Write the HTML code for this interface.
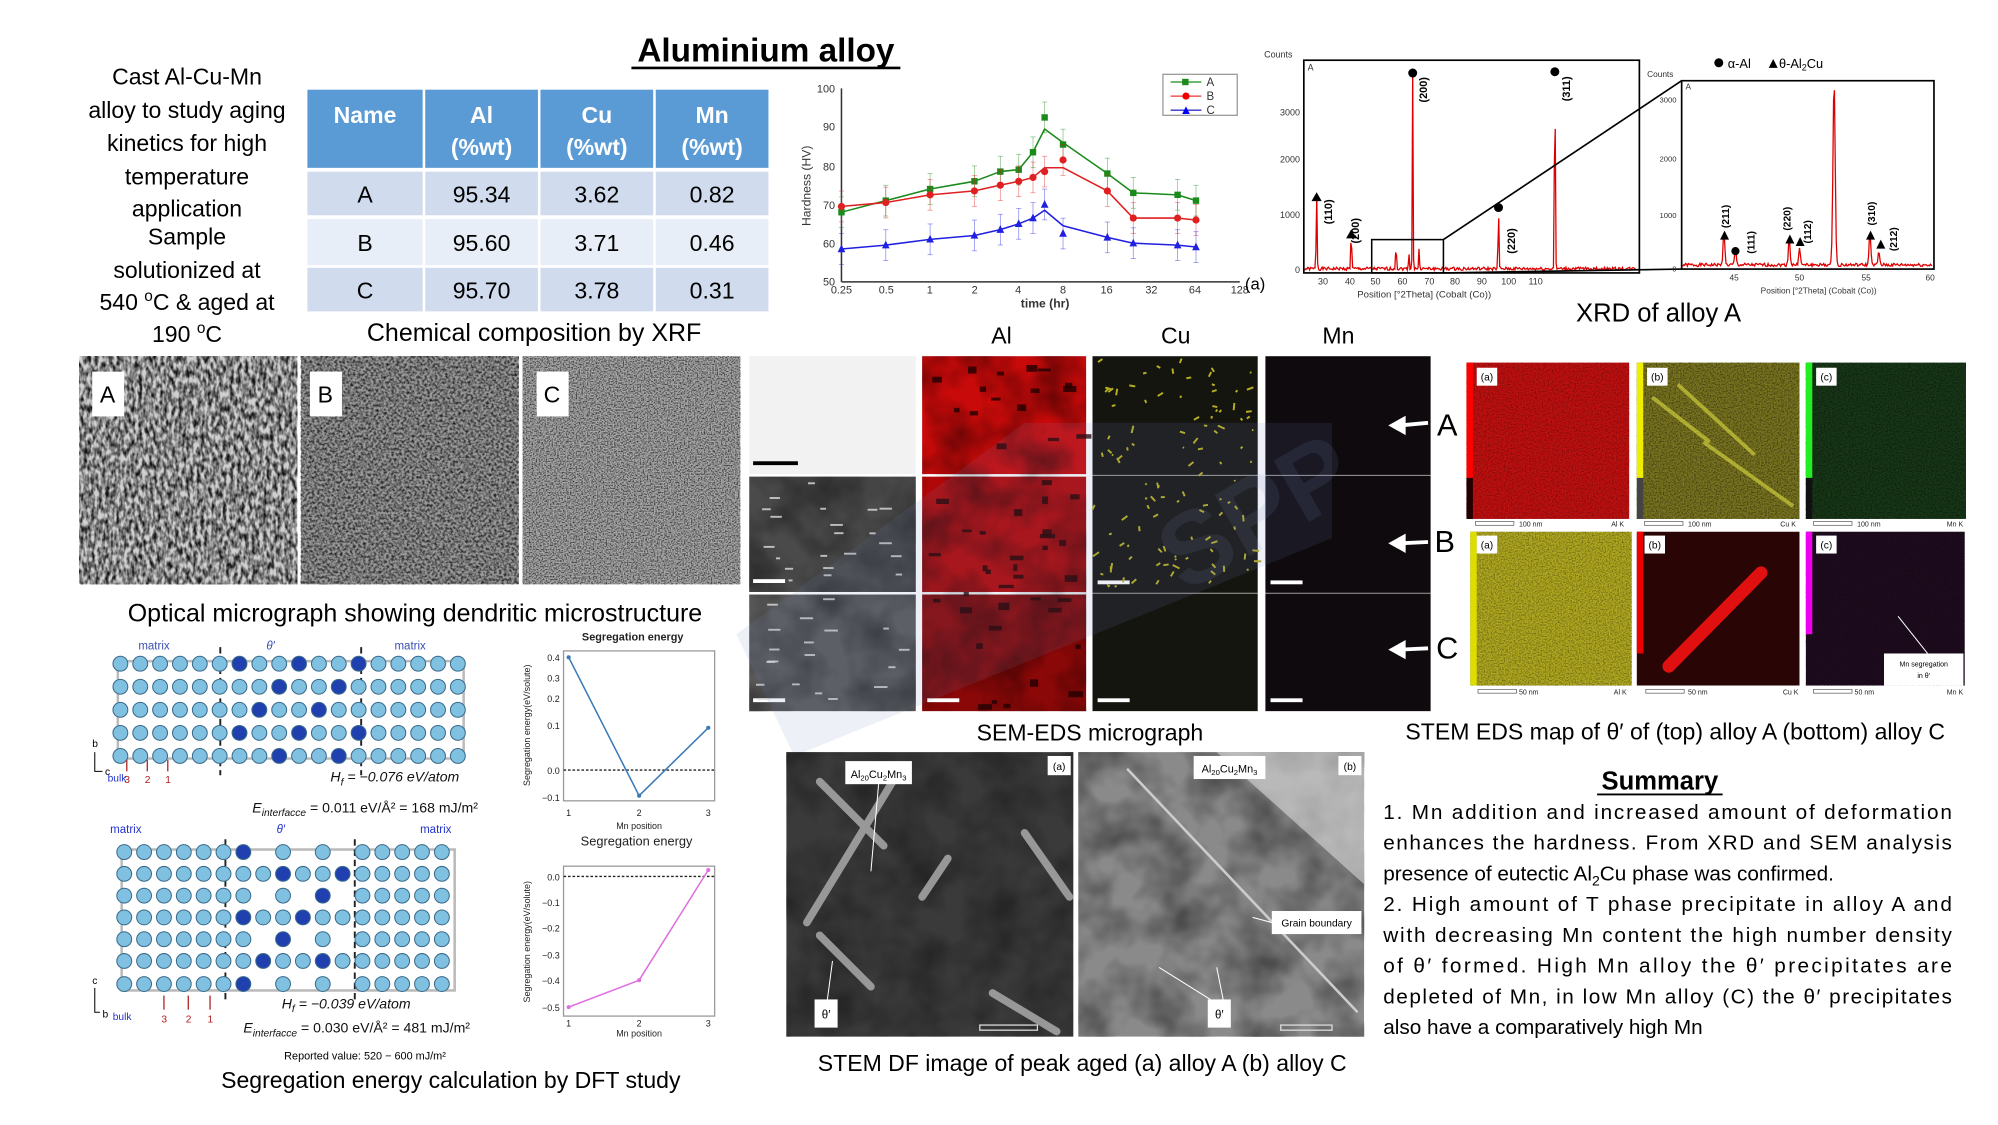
<!DOCTYPE html>
<html><head><meta charset="utf-8">
<style>
html,body{margin:0;padding:0;background:#fff;}
svg{display:block}
text{font-family:"Liberation Sans",sans-serif}
</style></head>
<body>
<svg id="s" width="1998" height="1125" viewBox="0 0 1560 878" preserveAspectRatio="none" xmlns="http://www.w3.org/2000/svg">
<defs>
<filter id="n1" x="0" y="0" width="1" height="1"><feTurbulence type="fractalNoise" baseFrequency="0.35 0.18" numOctaves="2" seed="3"/><feColorMatrix type="matrix" values="0 0 0 0 0  0 0 0 0 0  0 0 0 0 0  -2.2 0 0 0 1.5"/></filter>
<filter id="n2" x="0" y="0" width="1" height="1"><feTurbulence type="fractalNoise" baseFrequency="0.5" numOctaves="2" seed="7"/><feColorMatrix type="matrix" values="0 0 0 0 0  0 0 0 0 0  0 0 0 0 0  -2 0 0 0 1.3"/></filter>
<filter id="n3" x="0" y="0" width="1" height="1"><feTurbulence type="fractalNoise" baseFrequency="0.9" numOctaves="1" seed="11"/><feColorMatrix type="matrix" values="0 0 0 0 0  0 0 0 0 0  0 0 0 0 0  -2.5 0 0 0 1.5"/></filter>
<filter id="n4" x="0" y="0" width="1" height="1"><feTurbulence type="fractalNoise" baseFrequency="0.03" numOctaves="3" seed="5"/><feColorMatrix type="matrix" values="0 0 0 0 0  0 0 0 0 0  0 0 0 0 0  -1.5 0 0 0 1.0"/></filter>
</defs>

<text x="598" y="48" font-size="26" font-weight="bold" text-anchor="middle">Aluminium alloy</text>
<line x1="493" y1="53" x2="703" y2="53" stroke="#000" stroke-width="2"/>

<g font-size="18" text-anchor="middle" fill="#000">
<text x="146" y="66">Cast Al-Cu-Mn</text>
<text x="146" y="92">alloy to study aging</text>
<text x="146" y="118">kinetics for high</text>
<text x="146" y="144">temperature</text>
<text x="146" y="169">application</text>
<text x="146" y="191">Sample</text>
<text x="146" y="217">solutionized at</text>
<text x="146" y="242">540 <tspan font-size="12" dy="-7">o</tspan><tspan dy="7">C &amp; aged at</tspan></text>
<text x="146" y="267">190 <tspan font-size="12" dy="-7">o</tspan><tspan dy="7">C</tspan></text>
</g>

<g>
<rect x="240" y="70" width="90" height="61" fill="#5b9bd5"/>
<rect x="332" y="70" width="88" height="61" fill="#5b9bd5"/>
<rect x="422" y="70" width="88" height="61" fill="#5b9bd5"/>
<rect x="512" y="70" width="88" height="61" fill="#5b9bd5"/>
<g fill="#d0dcee"><rect x="240" y="134" width="90" height="34"/><rect x="332" y="134" width="88" height="34"/><rect x="422" y="134" width="88" height="34"/><rect x="512" y="134" width="88" height="34"/>
<rect x="240" y="209" width="90" height="34"/><rect x="332" y="209" width="88" height="34"/><rect x="422" y="209" width="88" height="34"/><rect x="512" y="209" width="88" height="34"/></g>
<g fill="#e8eef7"><rect x="240" y="171" width="90" height="36"/><rect x="332" y="171" width="88" height="36"/><rect x="422" y="171" width="88" height="36"/><rect x="512" y="171" width="88" height="36"/></g>
<g font-size="18" fill="#fff" text-anchor="middle" font-weight="bold">
<text x="285" y="96">Name</text>
<text x="376" y="96">Al</text><text x="376" y="121">(%wt)</text>
<text x="466" y="96">Cu</text><text x="466" y="121">(%wt)</text>
<text x="556" y="96">Mn</text><text x="556" y="121">(%wt)</text>
</g>
<g font-size="18" fill="#000" text-anchor="middle">
<text x="285" y="158">A</text><text x="376" y="158">95.34</text><text x="466" y="158">3.62</text><text x="556" y="158">0.82</text>
<text x="285" y="196">B</text><text x="376" y="196">95.60</text><text x="466" y="196">3.71</text><text x="556" y="196">0.46</text>
<text x="285" y="233">C</text><text x="376" y="233">95.70</text><text x="466" y="233">3.78</text><text x="556" y="233">0.31</text>
</g>
</g>
<text x="417" y="266" font-size="19.5" text-anchor="middle">Chemical composition by XRF</text>

<g id="hard" font-size="8.5" fill="#333">
<line x1="657" y1="69" x2="657" y2="220" stroke="#333" stroke-width="1.2"/>
<line x1="657" y1="220" x2="968" y2="220" stroke="#333" stroke-width="1.2"/>
<text x="652" y="72" text-anchor="end">100</text>
<text x="652" y="102" text-anchor="end">90</text>
<text x="652" y="133" text-anchor="end">80</text>
<text x="652" y="163" text-anchor="end">70</text>
<text x="652" y="193" text-anchor="end">60</text>
<text x="652" y="223" text-anchor="end">50</text>
<g text-anchor="middle">
<text x="657" y="229">0.25</text><text x="692" y="229">0.5</text><text x="726" y="229">1</text><text x="761" y="229">2</text><text x="795" y="229">4</text><text x="830" y="229">8</text><text x="864" y="229">16</text><text x="899" y="229">32</text><text x="933" y="229">64</text><text x="968" y="229">128</text>
<text x="816" y="240" font-size="9.5" font-weight="bold">time (hr)</text>
</g>
<text transform="translate(633,145) rotate(-90)" text-anchor="middle" font-size="9.5">Hardness (HV)</text>
<text x="972" y="226" font-size="13" fill="#000">(a)</text>
<rect x="908" y="58" width="58" height="32" fill="#fff" stroke="#999"/>
<line x1="914" y1="64" x2="938" y2="64" stroke="#1a8a1a"/><rect x="923" y="61.5" width="5" height="5" fill="#1a8a1a"/><text x="942" y="67" font-size="9">A</text>
<line x1="914" y1="75" x2="938" y2="75" stroke="#e33"/><circle cx="926" cy="75" r="2.8" fill="#e00"/><text x="942" y="78" font-size="9">B</text>
<line x1="914" y1="86" x2="938" y2="86" stroke="#33c"/><path d="M923,89 L926,83 L929,89Z" fill="#00f"/><text x="942" y="89" font-size="9">C</text>
</g>

<g font-size="7" fill="#333">
<text x="987" y="45">Counts</text>
<rect x="1018" y="47" width="262" height="166" fill="none" stroke="#000" stroke-width="1.3"/>
<text x="1021" y="55" font-size="7">A</text>
<text x="1015" y="90" text-anchor="end">3000</text>
<text x="1015" y="127" text-anchor="end">2000</text>
<text x="1015" y="170" text-anchor="end">1000</text>
<text x="1015" y="213" text-anchor="end">0</text>
<g text-anchor="middle"><text x="1033" y="222">30</text><text x="1054" y="222">40</text><text x="1074" y="222">50</text><text x="1095" y="222">60</text><text x="1116" y="222">70</text><text x="1136" y="222">80</text><text x="1157" y="222">90</text><text x="1178" y="222">100</text><text x="1199" y="222">110</text>
<text x="1112" y="232" font-size="7.5">Position [°2Theta] (Cobalt (Co))</text></g>
<path id="xrdm" fill="none" stroke="#d00" stroke-width="1"/>
<rect x="1071" y="187" width="56" height="26" fill="none" stroke="#000" stroke-width="1.2"/>
<line x1="1127" y1="187" x2="1313" y2="63" stroke="#000" stroke-width="1.3"/>
<line x1="1127" y1="213" x2="1313" y2="210" stroke="#000" stroke-width="1.3"/>
<g fill="#000">
<circle cx="1103" cy="57" r="3.5"/><circle cx="1214" cy="56" r="3.5"/><circle cx="1170" cy="162" r="3.5"/>
<path d="M1024,157 l4,-7 l4,7z"/><path d="M1051,186 l4,-7 l4,7z"/>
</g>
<g font-size="8.5" font-weight="bold" fill="#000">
<text transform="translate(1114,80) rotate(-90)">(200)</text>
<text transform="translate(1226,79) rotate(-90)">(311)</text>
<text transform="translate(1183,198) rotate(-90)">(220)</text>
<text transform="translate(1040,175) rotate(-90)">(110)</text>
<text transform="translate(1061,190) rotate(-90)">(200)</text>
</g>
<text x="1286" y="60" font-size="6.5">Counts</text>
<rect x="1313" y="63" width="197" height="147" fill="none" stroke="#000" stroke-width="1.3"/>
<text x="1316" y="70" font-size="6.5">A</text>
<g font-size="6" text-anchor="end"><text x="1309" y="80">3000</text><text x="1309" y="126">2000</text><text x="1309" y="170">1000</text><text x="1309" y="212">0</text></g>
<g font-size="6.5" text-anchor="middle"><text x="1354" y="219">45</text><text x="1405" y="219">50</text><text x="1457" y="219">55</text><text x="1507" y="219">60</text>
<text x="1420" y="229">Position [°2Theta] (Cobalt (Co))</text></g>
<path id="xrdi" fill="none" stroke="#d00" stroke-width="1"/>
<g fill="#000">
<path d="M1343,187 l3.5,-7 l3.5,7z"/><circle cx="1355" cy="196" r="3.2"/><path d="M1394,190 l3.5,-7 l3.5,7z"/><path d="M1402,192 l3.5,-7 l3.5,7z"/><path d="M1457,187 l3.5,-7 l3.5,7z"/><path d="M1465,194 l3.5,-7 l3.5,7z"/>
</g>
<g font-size="8" font-weight="bold" fill="#000">
<text transform="translate(1350,178) rotate(-90)">(211)</text>
<text transform="translate(1370,198) rotate(-90)">(111)</text>
<text transform="translate(1398,180) rotate(-90)">(220)</text>
<text transform="translate(1414,190) rotate(-90)">(112)</text>
<text transform="translate(1464,176) rotate(-90)">(310)</text>
<text transform="translate(1481,196) rotate(-90)">(212)</text>
</g>
<circle cx="1342" cy="49" r="3.5" fill="#000"/><text x="1349" y="53" font-size="10" fill="#000">α-Al</text>
<path d="M1381,53 l3.5,-7 l3.5,7z" fill="#000"/><text x="1389" y="53" font-size="10" fill="#000">θ-Al<tspan font-size="7" dy="2">2</tspan><tspan dy="-2">Cu</tspan></text>
</g>
<text x="1295" y="251" font-size="20" text-anchor="middle">XRD of alloy A</text>

<g>
<rect x="62" y="278" width="170" height="178" fill="#d0d0d0"/><rect x="62" y="278" width="170" height="178" filter="url(#n1)" opacity="0.9"/>
<rect x="235" y="278" width="170" height="178" fill="#9a9a9a"/><rect x="235" y="278" width="170" height="178" filter="url(#n2)" opacity="0.85"/>
<rect x="408" y="278" width="170" height="178" fill="#a8a8a8"/><rect x="408" y="278" width="170" height="178" filter="url(#n3)" opacity="0.75"/>
<rect x="72" y="290" width="25" height="35" fill="#fff"/><text x="84" y="314" font-size="18" text-anchor="middle">A</text>
<rect x="242" y="290" width="25" height="35" fill="#fff"/><text x="254" y="314" font-size="18" text-anchor="middle">B</text>
<rect x="419" y="290" width="25" height="35" fill="#fff"/><text x="431" y="314" font-size="18" text-anchor="middle">C</text>
</g>
<text x="324" y="485" font-size="19.5" text-anchor="middle">Optical micrograph showing dendritic microstructure</text>

<g font-size="18" text-anchor="middle"><text x="782" y="268">Al</text><text x="918" y="268">Cu</text><text x="1045" y="268">Mn</text></g>
<g id="sem">
<rect x="585" y="278" width="130" height="92" fill="#f2f2f2"/>
<rect x="585" y="372" width="130" height="90" fill="#4a4a4a"/><rect x="585" y="372" width="130" height="90" filter="url(#n4)" opacity="0.5"/>
<rect x="585" y="464" width="130" height="91" fill="#5a5a5a"/><rect x="585" y="464" width="130" height="91" filter="url(#n4)" opacity="0.5"/>
<rect x="720" y="278" width="128" height="92" fill="#c80a0a"/><rect x="720" y="372" width="128" height="90" fill="#b00808"/><rect x="720" y="464" width="128" height="91" fill="#8a0808"/>
<rect x="720" y="278" width="128" height="277" filter="url(#n4)" opacity="0.6"/>
<rect x="853" y="278" width="129" height="277" fill="#151510"/>
<rect x="988" y="278" width="129" height="277" fill="#0e0a0e"/>
<g stroke="#fff" stroke-width="0.8" opacity="0.6"><line x1="585" y1="371" x2="1117" y2="371"/><line x1="585" y1="463" x2="1117" y2="463"/></g>
<g fill="#000"><rect x="588" y="360" width="35" height="3"/></g>
<g fill="#fff"><rect x="588" y="452" width="25" height="3"/><rect x="588" y="545" width="25" height="3"/><rect x="724" y="545" width="25" height="3"/><rect x="857" y="453" width="25" height="3"/><rect x="857" y="545" width="25" height="3"/><rect x="992" y="453" width="25" height="3"/><rect x="992" y="545" width="25" height="3"/></g>
<g id="cusp" fill="#b8b020"></g>
<path d="M575,495 L800,330 L1040,330 L1040,420 L620,590Z" fill="#7080c0" opacity="0.12"/>
<text x="900" y="470" font-size="80" fill="#8090c0" opacity="0.12" transform="rotate(-30 900 420)" font-weight="bold">SPP</text>
</g>
<text x="851" y="578" font-size="18" text-anchor="middle">SEM-EDS micrograph</text>

<g stroke="#fff" stroke-width="3" fill="#fff">
<line x1="1093" y1="332" x2="1115" y2="330"/><path d="M1087,332 l9,-5 l0,10z"/>
<line x1="1093" y1="424" x2="1115" y2="423"/><path d="M1087,424 l9,-5 l0,10z"/>
<line x1="1093" y1="507" x2="1115" y2="506"/><path d="M1087,507 l9,-5 l0,10z"/>
<line x1="1143" y1="333" x2="1170" y2="333"/><path d="M1178,333 l-9,-5 l0,10z"/>
<line x1="1143" y1="507" x2="1160" y2="507"/><path d="M1168,507 l-9,-5 l0,10z"/>
</g>
<g font-size="24" text-anchor="middle"><text x="1130" y="340">A</text><text x="1128" y="431">B</text><text x="1130" y="514">C</text></g>

<g>
<rect x="1145" y="283" width="127" height="122" fill="#c01010"/><rect x="1145" y="283" width="127" height="122" filter="url(#n3)" opacity="0.35"/>
<rect x="1145" y="283" width="5" height="90" fill="#f00"/><rect x="1145" y="373" width="5" height="32" fill="#200"/>
<rect x="1278" y="283" width="127" height="122" fill="#7a7520"/><rect x="1278" y="283" width="127" height="122" filter="url(#n3)" opacity="0.5"/>
<rect x="1278" y="283" width="5" height="90" fill="#ee0"/><rect x="1278" y="373" width="5" height="32" fill="#444"/>
<g stroke="#dddd40" stroke-width="3" opacity="0.6"><line x1="1290" y1="310" x2="1335" y2="345"/><line x1="1310" y1="300" x2="1370" y2="355"/><line x1="1330" y1="345" x2="1400" y2="395"/></g>
<rect x="1410" y="283" width="125" height="122" fill="#183818"/><rect x="1410" y="283" width="125" height="122" filter="url(#n3)" opacity="0.5"/>
<rect x="1410" y="283" width="5" height="90" fill="#2e2"/><rect x="1410" y="373" width="5" height="32" fill="#111"/>
<g font-size="5.5" fill="#222"><rect x="1152" y="407" width="30" height="3" fill="none" stroke="#666" stroke-width="0.6"/><text x="1186" y="411">100 nm</text><text x="1258" y="411">Al K</text>
<rect x="1284" y="407" width="30" height="3" fill="none" stroke="#666" stroke-width="0.6"/><text x="1318" y="411">100 nm</text><text x="1390" y="411">Cu K</text>
<rect x="1416" y="407" width="30" height="3" fill="none" stroke="#666" stroke-width="0.6"/><text x="1450" y="411">100 nm</text><text x="1520" y="411">Mn K</text></g>
<rect x="1148" y="415" width="126" height="120" fill="#b0a820"/><rect x="1148" y="415" width="126" height="120" filter="url(#n3)" opacity="0.4"/>
<rect x="1148" y="415" width="5" height="120" fill="#dd0"/>
<rect x="1278" y="415" width="127" height="120" fill="#2a0505"/>
<line x1="1303" y1="520" x2="1375" y2="447" stroke="#e01010" stroke-width="10" stroke-linecap="round"/>
<rect x="1278" y="415" width="5" height="95" fill="#e00"/>
<rect x="1410" y="415" width="124" height="120" fill="#1e0c1e"/><rect x="1410" y="415" width="124" height="120" filter="url(#n3)" opacity="0.3"/>
<rect x="1410" y="415" width="5" height="80" fill="#e0e"/>
<line x1="1482" y1="481" x2="1505" y2="510" stroke="#fff" stroke-width="0.8"/>
<rect x="1471" y="510" width="62" height="25" fill="#fff"/><text x="1502" y="520" font-size="5.5" text-anchor="middle">Mn segregation</text><text x="1502" y="529" font-size="5.5" text-anchor="middle">in θ'</text>
<g font-size="5.5" fill="#222"><rect x="1154" y="538" width="30" height="3" fill="none" stroke="#666" stroke-width="0.6"/><text x="1186" y="542">50 nm</text><text x="1260" y="542">Al K</text>
<rect x="1285" y="538" width="30" height="3" fill="none" stroke="#666" stroke-width="0.6"/><text x="1318" y="542">50 nm</text><text x="1392" y="542">Cu K</text>
<rect x="1416" y="538" width="30" height="3" fill="none" stroke="#666" stroke-width="0.6"/><text x="1448" y="542">50 nm</text><text x="1520" y="542">Mn K</text></g>
<g fill="#fff"><rect x="1153" y="287" width="16" height="14"/><rect x="1286" y="287" width="16" height="14"/><rect x="1418" y="287" width="16" height="14"/><rect x="1153" y="418" width="16" height="14"/><rect x="1284" y="418" width="16" height="14"/><rect x="1418" y="418" width="16" height="14"/></g>
<g font-size="8" text-anchor="middle"><text x="1161" y="297">(a)</text><text x="1294" y="297">(b)</text><text x="1426" y="297">(c)</text><text x="1161" y="428">(a)</text><text x="1292" y="428">(b)</text><text x="1426" y="428">(c)</text></g>
</g>
<text x="1308" y="577" font-size="18" text-anchor="middle">STEM EDS map of θ′ of (top) alloy A (bottom) alloy C</text>

<g>
<rect x="614" y="587" width="224" height="222" fill="#3a3a3a"/><rect x="614" y="587" width="224" height="222" filter="url(#n4)" opacity="0.45"/>
<g stroke="#aaa" stroke-width="6" stroke-linecap="round" opacity="0.85"><line x1="640" y1="610" x2="690" y2="660"/><line x1="700" y1="605" x2="630" y2="720"/><line x1="640" y1="730" x2="680" y2="770"/><line x1="800" y1="650" x2="835" y2="700"/><line x1="775" y1="775" x2="825" y2="805"/><line x1="720" y1="700" x2="740" y2="670"/></g>
<rect x="842" y="587" width="223" height="222" fill="#8a8a8a"/><rect x="842" y="587" width="223" height="222" filter="url(#n4)" opacity="0.55"/>
<path d="M842,587 L1065,587 L1065,690 L950,587Z" fill="#d8d8d8" opacity="0.6"/>
<line x1="880" y1="600" x2="1060" y2="790" stroke="#ccc" stroke-width="2"/>
<rect x="660" y="594" width="52" height="18" fill="#fff"/><text x="686" y="607" font-size="8.5" text-anchor="middle">Al<tspan font-size="6" dy="2">20</tspan><tspan dy="-2">Cu</tspan><tspan font-size="6" dy="2">2</tspan><tspan dy="-2">Mn</tspan><tspan font-size="6" dy="2">3</tspan></text>
<rect x="932" y="590" width="56" height="18" fill="#fff"/><text x="960" y="603" font-size="8.5" text-anchor="middle">Al<tspan font-size="6" dy="2">20</tspan><tspan dy="-2">Cu</tspan><tspan font-size="6" dy="2">2</tspan><tspan dy="-2">Mn</tspan><tspan font-size="6" dy="2">3</tspan></text>
<rect x="818" y="590" width="18" height="15" fill="#fff"/><text x="827" y="601" font-size="8" text-anchor="middle">(a)</text>
<rect x="1045" y="590" width="18" height="15" fill="#fff"/><text x="1054" y="601" font-size="8" text-anchor="middle">(b)</text>
<rect x="993" y="711" width="70" height="18" fill="#fff"/><text x="1028" y="723" font-size="8" text-anchor="middle">Grain boundary</text>
<rect x="636" y="780" width="18" height="22" fill="#fff"/><text x="645" y="795" font-size="9" text-anchor="middle">θ′</text>
<rect x="943" y="780" width="18" height="22" fill="#fff"/><text x="952" y="795" font-size="9" text-anchor="middle">θ′</text>
<g stroke="#fff" stroke-width="0.8"><line x1="686" y1="612" x2="680" y2="680"/><line x1="646" y1="780" x2="650" y2="750"/><line x1="945" y1="780" x2="905" y2="755"/><line x1="955" y1="780" x2="950" y2="755"/><line x1="993" y1="720" x2="978" y2="716"/></g>
<g fill="none" stroke="#ddd" stroke-width="1"><rect x="765" y="800" width="45" height="4"/><rect x="1000" y="800" width="40" height="4"/></g>
</g>
<text x="845" y="836" font-size="18" text-anchor="middle">STEM DF image of peak aged (a) alloy A (b) alloy C</text>

<text x="1296" y="616" font-size="20" font-weight="bold" text-anchor="middle">Summary</text>
<line x1="1247" y1="620" x2="1345" y2="620" stroke="#000" stroke-width="1.5"/>
<g font-size="16.2" fill="#000">
<text x="1080" y="639" textLength="444" lengthAdjust="spacing">1. Mn addition and increased amount of deformation</text>
<text x="1080" y="663" textLength="444" lengthAdjust="spacing">enhances the hardness. From XRD and SEM analysis</text>
<text x="1080" y="687">presence of eutectic Al<tspan font-size="11" dy="4">2</tspan><tspan dy="-4">Cu phase was confirmed.</tspan></text>
<text x="1080" y="711" textLength="444" lengthAdjust="spacing">2. High amount of T phase precipitate in alloy A and</text>
<text x="1080" y="735" textLength="444" lengthAdjust="spacing">with decreasing Mn content the high number density</text>
<text x="1080" y="759" textLength="444" lengthAdjust="spacing">of θ′ formed. High Mn alloy the θ′ precipitates are</text>
<text x="1080" y="783" textLength="444" lengthAdjust="spacing">depleted of Mn, in low Mn alloy (C) the θ′ precipitates</text>
<text x="1080" y="807">also have a comparatively high Mn</text>
</g>

<g id="dft">
<rect x="92" y="516" width="270" height="76" fill="none" stroke="#bbb" stroke-width="2"/>
<rect x="95" y="663" width="260" height="110" fill="none" stroke="#bbb" stroke-width="2"/>
<g stroke="#222" stroke-width="1.5" stroke-dasharray="5,3"><line x1="172" y1="505" x2="172" y2="605"/><line x1="282" y1="505" x2="282" y2="605"/><line x1="176" y1="655" x2="176" y2="780"/><line x1="277" y1="655" x2="277" y2="780"/></g>
<g id="atoms"></g>
<g font-size="9" fill="#3a50b0"><text x="108" y="507">matrix</text><text x="208" y="507" font-style="italic">θ′</text><text x="308" y="507">matrix</text>
<text x="86" y="650" fill="#2233cc">matrix</text><text x="216" y="650" fill="#2233cc" font-style="italic">θ′</text><text x="328" y="650" fill="#2233cc">matrix</text></g>
<g font-size="8" fill="#000"><text x="72" y="583">b</text><text x="82" y="605">c</text><text x="72" y="768">c</text><text x="80" y="794">b</text></g>
<g stroke="#000" stroke-width="0.8" fill="none"><path d="M74,587 V602 H80"/><path d="M74,771 V790 H78"/></g>
<g font-size="8"><text x="84" y="610" fill="#2233cc">bulk</text><text x="88" y="796" fill="#2233cc">bulk</text>
<g fill="#b02020"><text x="97" y="611">3</text><text x="113" y="611">2</text><text x="129" y="611">1</text><text x="126" y="798">3</text><text x="145" y="798">2</text><text x="162" y="798">1</text></g></g>
<g stroke="#b02020" stroke-width="1"><line x1="99" y1="593" x2="99" y2="602"/><line x1="115" y1="593" x2="115" y2="602"/><line x1="131" y1="593" x2="131" y2="602"/><line x1="128" y1="777" x2="128" y2="788"/><line x1="147" y1="777" x2="147" y2="788"/><line x1="164" y1="777" x2="164" y2="788"/></g>
<g font-family="Liberation Serif,serif" font-style="italic" font-size="11" fill="#111">
<text x="258" y="610">H<tspan font-size="8" dy="3">f</tspan><tspan dy="-3"> = −0.076 eV/atom</tspan></text>
<text x="197" y="634">E<tspan font-size="8" dy="3">interfacce</tspan><tspan dy="-3" font-style="normal"> = 0.011 eV/Å² = 168 mJ/m²</tspan></text>
<text x="220" y="787">H<tspan font-size="8" dy="3">f</tspan><tspan dy="-3"> = −0.039 eV/atom</tspan></text>
<text x="190" y="806">E<tspan font-size="8" dy="3">interfacce</tspan><tspan dy="-3" font-style="normal"> = 0.030 eV/Å² = 481 mJ/m²</tspan></text>
</g>
<text x="285" y="827" font-size="8.5" text-anchor="middle">Reported value: 520 − 600 mJ/m²</text>
<text x="352" y="849" font-size="18" text-anchor="middle">Segregation energy calculation by DFT study</text>
<g font-size="7" fill="#222">
<text x="494" y="500" text-anchor="middle" font-size="8.5" font-weight="bold">Segregation energy</text>
<rect x="440" y="508" width="118" height="117" fill="none" stroke="#999"/>
<line x1="440" y1="601" x2="558" y2="601" stroke="#222" stroke-dasharray="2,1.5"/>
<polyline points="444,513 499,621 553,568" fill="none" stroke="#3a7ab8" stroke-width="1.2"/>
<g fill="#3a7ab8"><circle cx="444" cy="513" r="1.6"/><circle cx="499" cy="621" r="1.6"/><circle cx="553" cy="568" r="1.6"/></g>
<g text-anchor="end"><text x="437" y="516">0.4</text><text x="437" y="548">0.2</text><text x="437" y="532">0.3</text><text x="437" y="569">0.1</text><text x="437" y="604">0.0</text><text x="437" y="625">−0.1</text></g>
<g text-anchor="middle"><text x="444" y="637">1</text><text x="499" y="637">2</text><text x="553" y="637">3</text><text x="499" y="647">Mn position</text></g>
<text transform="translate(414,566) rotate(-90)" text-anchor="middle" font-size="7">Segregation energy(eV/solute)</text>
<text x="497" y="660" text-anchor="middle" font-size="10">Segregation energy</text>
<rect x="440" y="676" width="118" height="117" fill="none" stroke="#999"/>
<line x1="440" y1="684" x2="558" y2="684" stroke="#222" stroke-dasharray="2,1.5"/>
<polyline points="444,786 499,765 553,679" fill="none" stroke="#e070e0" stroke-width="1.2"/>
<g fill="#e070e0"><circle cx="444" cy="786" r="1.6"/><circle cx="499" cy="765" r="1.6"/><circle cx="553" cy="679" r="1.6"/></g>
<g text-anchor="end"><text x="437" y="687">0.0</text><text x="437" y="707">−0.1</text><text x="437" y="727">−0.2</text><text x="437" y="748">−0.3</text><text x="437" y="768">−0.4</text><text x="437" y="789">−0.5</text></g>
<g text-anchor="middle"><text x="444" y="801">1</text><text x="499" y="801">2</text><text x="553" y="801">3</text><text x="499" y="809">Mn position</text></g>
<text transform="translate(414,735) rotate(-90)" text-anchor="middle" font-size="7">Segregation energy(eV/solute)</text>
</g>
</g>
</svg>
<script>
var NS="http://www.w3.org/2000/svg";
function el(p,t,a){var e=document.createElementNS(NS,t);for(var k in a)e.setAttribute(k,a[k]);p.appendChild(e);return e;}
var hard=document.getElementById('hard');
var T=[0.25,0.5,1,2,3,4,5,6,8,16,24,48,64];
var D={A:[68,71,74,76,78.5,79,83.5,92.5,85.5,78,73,72.5,71],B:[69.5,70.5,72.5,73.5,75,76,77,78.5,81.5,73.5,66.5,66.5,66],C:[58.5,59.5,61,62,63.5,65,66.5,70,62.5,61.5,60,59.5,59]};
var col={A:"#1a8a1a",B:"#e02020",C:"#2020e0"};
function X(t){return 657+(Math.log2(t)+2)*34.6;}function Y(v){return 220-(v-50)*3.02;}
for(var k in D){var pts=[];
 var fit=D[k].slice(); if(k=='A'){fit[7]=89.5;fit[8]=86;} if(k=='B'){fit[7]=79.5;fit[8]=79.5;} if(k=='C'){fit[7]=68.5;fit[8]=64.5;}
 for(var i=0;i<T.length;i++)pts.push(X(T[i]).toFixed(1)+","+Y(fit[i]).toFixed(1));
 el(hard,'polyline',{points:pts.join(' '),fill:'none',stroke:col[k],'stroke-width':1.2,'stroke-linejoin':'round'});
 for(var i=0;i<T.length;i++){var x=X(T[i]),y=Y(D[k][i]);
  el(hard,'line',{x1:x,y1:y-12,x2:x,y2:y+12,stroke:col[k],'stroke-width':0.6,opacity:0.5});
  el(hard,'line',{x1:x-2,y1:y-12,x2:x+2,y2:y-12,stroke:col[k],'stroke-width':0.6,opacity:0.5});
  el(hard,'line',{x1:x-2,y1:y+12,x2:x+2,y2:y+12,stroke:col[k],'stroke-width':0.6,opacity:0.5});
  if(k=='A')el(hard,'rect',{x:x-2.5,y:y-2.5,width:5,height:5,fill:col[k]});
  else if(k=='B')el(hard,'circle',{cx:x,cy:y,r:2.8,fill:col[k]});
  else el(hard,'path',{d:'M'+(x-3)+','+(y+2.5)+' L'+x+','+(y-3.5)+' L'+(x+3)+','+(y+2.5)+'Z',fill:col[k]});
 }}
function peaks(x0,x1,base,pk,id){var d='M'+x0+','+base;var seed=1;
 for(var x=x0;x<=x1;x+=0.7){seed=(seed*9301+49297)%233280;var y=base-(seed/233280)*2.5;
  for(var j=0;j<pk.length;j++){var dx=(x-pk[j][0])/pk[j][2];y-=pk[j][1]*Math.exp(-dx*dx);}
  d+=' L'+x.toFixed(1)+','+y.toFixed(1);}
 document.getElementById(id).setAttribute('d',d);}
peaks(1019,1279,211,[[1028,60,0.5],[1055,30,0.5],[1090,20,0.5],[1100,12,0.5],[1103,155,0.4],[1108,15,0.5],[1170,45,0.5],[1214,157,0.5]],'xrdm');
peaks(1314,1509,208,[[1346,28,0.9],[1355,13,0.9],[1397,22,0.9],[1405,14,0.9],[1432,145,1.2],[1460,27,0.9],[1467,10,0.9]],'xrdi');
var g=document.getElementById('cusp');var sd=5;
function r(){sd=(sd*9301+49297)%233280;return sd/233280;}
for(var i=0;i<110;i++){var x=855+r()*125,y=280+r()*180;el(g,'rect',{x:x,y:y,width:1+r()*5,height:1.5,transform:'rotate('+(r()*180)+' '+x+' '+y+')'});}
var ga=el(g,'g',{});
for(var i=0;i<50;i++){el(ga,'rect',{x:725+r()*120,y:282+r()*270,width:3+r()*9,height:2+r()*4,fill:'#200',opacity:0.8});}
for(var i=0;i<40;i++){el(ga,'rect',{x:590+r()*120,y:376+r()*175,width:3+r()*8,height:1.5,fill:'#ddd',opacity:0.8});}
var A=document.getElementById('atoms');
function grid(x0,x1,ys,d1,d2,dark){for(var j=0;j<ys.length;j++){for(var x=x0;x<=x1;x+=15.5){
 var inside=(x>d1&&x<d2);var dk=inside&&((Math.round((x-x0)/15.5)+j)%3==0);
 if(inside&&dark==2&&j%2==0&&((Math.round((x-x0)/15.5))%2==1))continue;
 el(A,'circle',{cx:x,cy:ys[j],r:5.8,fill:dk?'#2040b0':'#80c0e0',stroke:'#3a6a8a','stroke-width':0.8});}}}
grid(94,362,[518,536,554,572,590],172,282,1);
grid(97,356,[665,682,699,716,733,750,768],176,277,2);
</script>
</body></html>
